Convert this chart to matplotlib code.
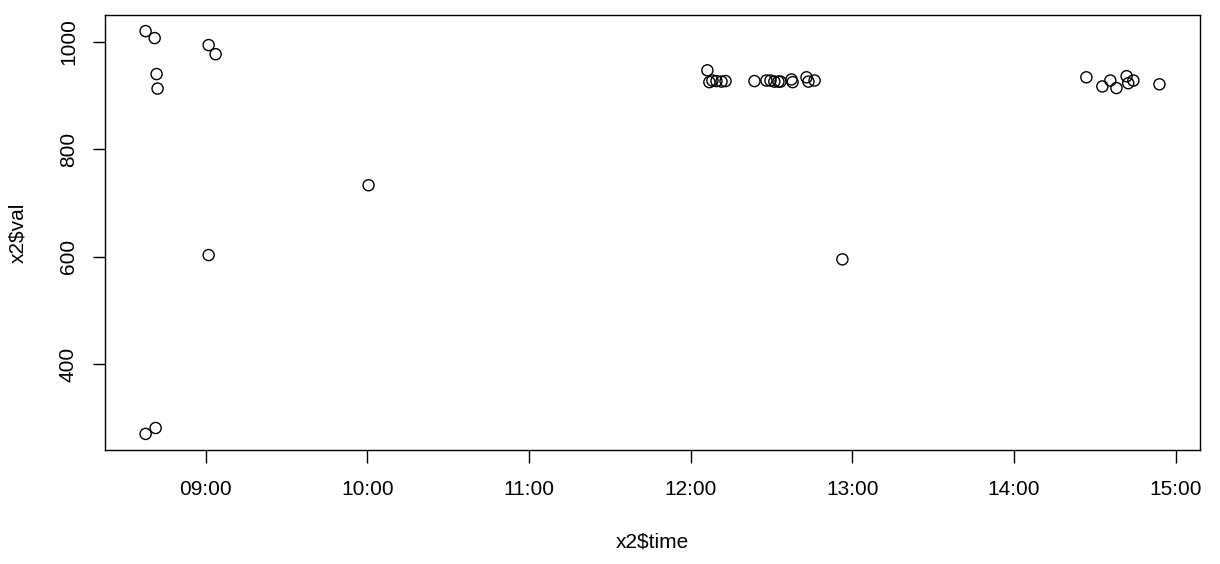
"""Scatter of x2$val against x2$time, styled like an R base plot."""

import matplotlib

matplotlib.use("Agg")  # headless backend
import matplotlib.dates as mdates  # noqa: E402
import matplotlib.pyplot as plt  # noqa: E402
import pandas as pd  # noqa: E402

times = [
    "08:37:44", "08:41:06", "08:41:49", "08:42:11", "08:37:44", "08:41:28",
    "09:01:08", "09:03:43", "09:01:08", "10:00:29", "12:56:20",
    "12:06:14", "12:06:58", "12:08:06", "12:09:36", "12:11:28", "12:12:58",
    "12:23:42", "12:28:08", "12:29:38", "12:31:05", "12:32:35", "12:33:22",
    "12:37:26", "12:37:52", "12:43:01", "12:43:44", "12:46:01",
    "14:26:53", "14:32:49", "14:35:46", "14:38:02", "14:41:49", "14:42:25",
    "14:44:20", "14:54:00",
]
vals = [
    1020, 1007, 940, 913, 270, 281,
    994, 977, 603, 733, 595,
    947, 925, 928, 927, 926, 927,
    927, 928, 928, 926, 926, 926,
    930, 925, 934, 926, 928,
    934, 917, 928, 914, 936, 923,
    928, 921,
]
y_ticks = [400, 600, 800, 1000]
x_tick_hours = [9, 10, 11, 12, 13, 14, 15]

plt.rcParams["font.family"] = ["Liberation Sans", "DejaVu Sans"]

day = "2020-01-01 "
t = pd.to_datetime([day + s for s in times])
x = mdates.date2num(t)

fig = plt.figure(figsize=(12.2, 5.64), dpi=100)
ax = fig.add_axes([0.0861, 0.2021, 0.8975, 0.7713])

ax.scatter(x, vals, s=64, facecolors="none", edgecolors="black", linewidths=1.0)

# R-style 4% axis extension
xr = x.max() - x.min()
ax.set_xlim(x.min() - 0.04 * xr, x.max() + 0.04 * xr)
yr = max(vals) - min(vals)
ax.set_ylim(min(vals) - 0.04 * yr, max(vals) + 0.04 * yr)

xt = mdates.date2num(pd.to_datetime([f"{day}{h:02d}:00:00" for h in x_tick_hours]))
ax.set_xticks(xt)
ax.xaxis.set_major_formatter(mdates.DateFormatter("%H:%M"))
ax.set_yticks(y_ticks)
ax.set_yticklabels([str(v) for v in y_ticks], rotation=90, va="center")

ax.tick_params(direction="out", length=9, width=1, labelsize=15)
ax.tick_params(axis="x", pad=12.5)
ax.tick_params(axis="y", pad=10.5)
for sp in ax.spines.values():
    sp.set_linewidth(1)
    sp.set_color("black")

ax.set_xlabel("x2$time", fontsize=15, labelpad=24)
ax.set_ylabel("x2$val", fontsize=15, labelpad=23)

fig.savefig("out.png", dpi=100)
plt.close(fig)
